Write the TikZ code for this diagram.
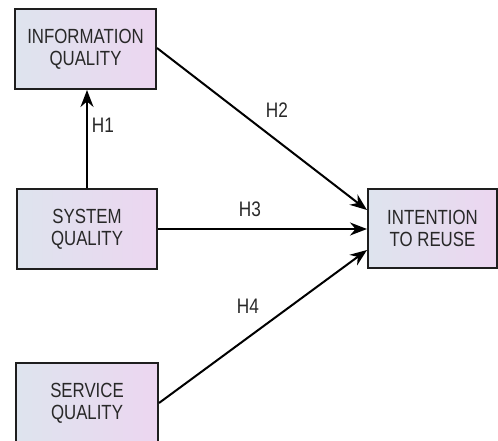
\documentclass[tikz,border=0pt]{standalone}
\usepackage{fontspec}
\setmainfont{Liberation Sans}[FakeStretch=0.82]
\usetikzlibrary{arrows.meta}
\definecolor{boxL}{RGB}{222,228,238}
\definecolor{boxR}{RGB}{236,214,240}
\definecolor{txt}{RGB}{40,40,40}
\begin{document}
\begin{tikzpicture}[x=1pt,y=-1pt,
  box/.style={draw={rgb,255:red,30;green,30;blue,30}, line width=2pt, left color=boxL, right color=boxR,
    minimum height=80pt, align=center, text=txt, font=\fontsize{20.5}{22}\selectfont, inner sep=0pt},
  conn/.style={line width=2pt, -{Stealth[length=17pt,width=13pt]}},
  lbl/.style={text=txt, font=\fontsize{21}{22}\selectfont, inner sep=0pt}]
\useasboundingbox (0,0) rectangle (498,440);
\node[box, minimum width=141pt] (info) at (85.5,49) {INFORMATION\\QUALITY};
\node[box, minimum width=140pt] (sys) at (87,229) {SYSTEM\\QUALITY};
\node[box, minimum width=142pt] (serv) at (87,403) {SERVICE\\QUALITY};
\node[box, minimum width=129pt, minimum height=79pt] (int) at (432.5,228.5) {INTENTION\\TO REUSE};
\draw[conn] (sys.north -| 87,0) -- (info.south -| 87,0);
\draw[conn] (info.east |- 0,48) -- (int.west |- 0,210);
\draw[conn] (sys.east |- 0,229) -- (int.west |- 0,229);
\draw[conn] (serv.east |- 0,403) -- (int.west |- 0,250);
\node[lbl] (h1) at (103,125) {H1};
\node[lbl] (h2) at (277,110) {H2};
\node[lbl] (h3) at (250,209) {H3};
\node[lbl] (h4) at (248,306) {H4};
\end{tikzpicture}
\end{document}
